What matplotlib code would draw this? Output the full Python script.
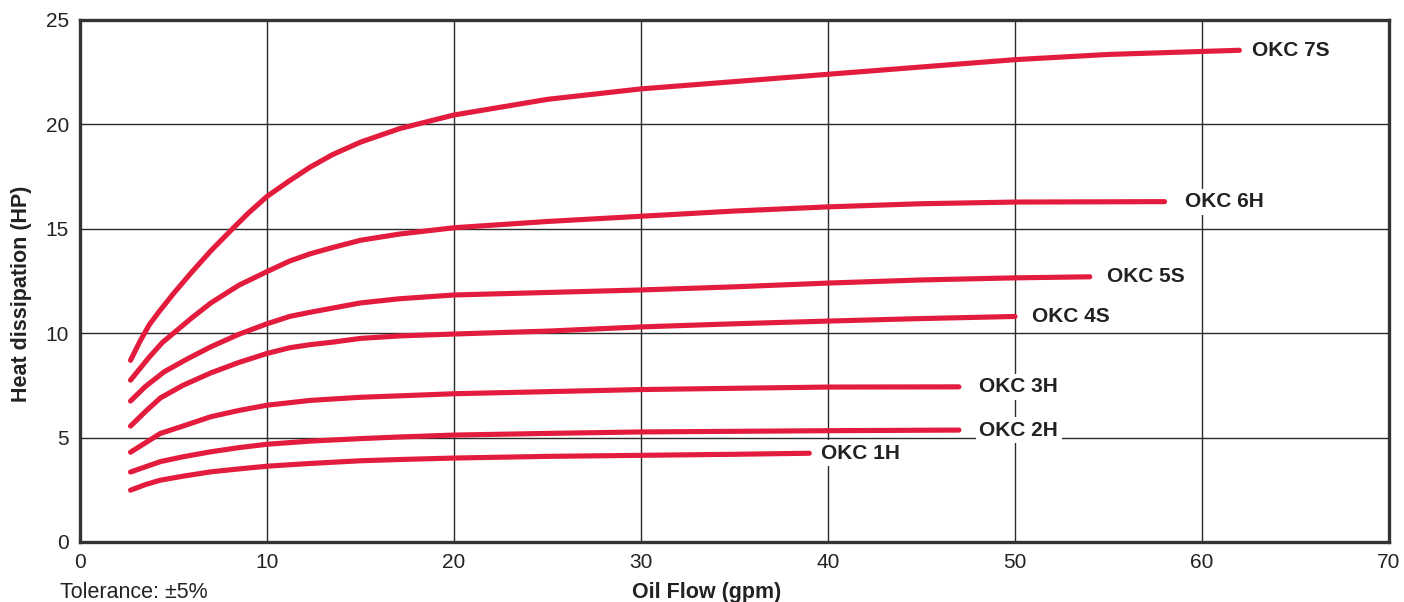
import matplotlib
matplotlib.use('Agg')
import matplotlib.pyplot as plt

plt.rcParams['font.family'] = ['Liberation Sans', 'DejaVu Sans']

# Heat dissipation curves (HP) vs oil flow (gpm)
flow_7s = [2.7, 3.2, 3.7, 4.2, 5.0, 6.0, 7.0, 8.1, 9.0, 10, 11.2, 12.3, 13.5, 15.0, 17.1, 20, 25, 30, 35, 40, 45, 50, 55, 62]
hp_7s = [8.7, 9.6, 10.4, 11.0, 11.9, 12.95, 13.95, 14.95, 15.75, 16.55, 17.3, 17.95, 18.55, 19.15, 19.8, 20.45, 21.2, 21.7, 22.05, 22.4, 22.75, 23.1, 23.35, 23.55]

flow_6h = [2.7, 3.2, 3.7, 4.4, 5.2, 6.0, 7.0, 8.5, 10, 11.2, 12.3, 13.5, 15.0, 17.1, 20, 25, 30, 35, 40, 45, 50, 58]
hp_6h = [7.75, 8.3, 8.85, 9.55, 10.15, 10.75, 11.45, 12.3, 12.95, 13.45, 13.8, 14.1, 14.45, 14.75, 15.05, 15.35, 15.6, 15.85, 16.05, 16.2, 16.28, 16.3]

flow_5s = [2.7, 3.5, 4.5, 5.7, 7.0, 8.5, 10, 11.2, 12.3, 13.5, 15.0, 17.1, 20, 25, 30, 35, 40, 45, 50, 54]
hp_5s = [6.75, 7.45, 8.15, 8.75, 9.35, 9.95, 10.45, 10.8, 11.0, 11.2, 11.45, 11.65, 11.83, 11.95, 12.07, 12.22, 12.4, 12.55, 12.65, 12.7]

flow_4s = [2.7, 3.5, 4.3, 5.5, 7.0, 8.5, 10, 11.2, 12.3, 13.5, 15.0, 17.1, 20, 25, 30, 35, 40, 45, 50]
hp_4s = [5.55, 6.25, 6.9, 7.5, 8.1, 8.6, 9.03, 9.3, 9.45, 9.57, 9.75, 9.87, 9.96, 10.1, 10.3, 10.45, 10.58, 10.7, 10.8]

flow_3h = [2.7, 3.5, 4.3, 5.5, 7.0, 8.5, 10, 12.3, 15.0, 17.1, 20, 25, 30, 35, 40, 47]
hp_3h = [4.3, 4.75, 5.2, 5.55, 6.0, 6.3, 6.55, 6.78, 6.93, 7.0, 7.1, 7.2, 7.3, 7.36, 7.42, 7.43]

flow_2h = [2.7, 3.5, 4.3, 5.5, 7.0, 8.5, 10, 12.3, 15.0, 17.1, 20, 25, 30, 35, 40, 47]
hp_2h = [3.35, 3.6, 3.85, 4.08, 4.32, 4.52, 4.68, 4.83, 4.95, 5.03, 5.12, 5.2, 5.27, 5.3, 5.33, 5.36]

flow_1h = [2.7, 3.5, 4.3, 5.5, 7.0, 8.5, 10, 12.3, 15.0, 17.1, 20, 25, 30, 35, 39]
hp_1h = [2.48, 2.75, 2.96, 3.15, 3.36, 3.5, 3.63, 3.76, 3.89, 3.95, 4.02, 4.1, 4.15, 4.2, 4.25]

names = ['OKC 7S', 'OKC 6H', 'OKC 5S', 'OKC 4S', 'OKC 3H', 'OKC 2H', 'OKC 1H']
label_x = [62.7, 59.1, 54.9, 50.9, 48.1, 48.1, 39.6]

series = [(flow_7s, hp_7s), (flow_6h, hp_6h), (flow_5s, hp_5s), (flow_4s, hp_4s),
          (flow_3h, hp_3h), (flow_2h, hp_2h), (flow_1h, hp_1h)]

red = '#e31b3c'
ink = '#222222'

fig = plt.figure(figsize=(14.04, 6.02), dpi=100)
ax = fig.add_axes([0.057, 0.0997, 0.9323, 0.8671])

for (fx, hy), name, lx in zip(series, names, label_x):
    ax.plot(fx, hy, color=red, lw=3.7, solid_capstyle='round', solid_joinstyle='round', zorder=3)
    ax.text(lx, hy[-1], name, fontsize=15, fontweight='bold', color=ink,
            va='center', ha='left', zorder=4,
            bbox=dict(facecolor='white', edgecolor='none', pad=2.5))

ax.set_xlim(0, 70)
ax.set_ylim(0, 25)
ax.set_xticks(range(0, 71, 10))
ax.set_yticks(range(0, 26, 5))
ax.grid(True, color='#2a2a2a', lw=1.0)
ax.set_axisbelow(True)
ax.tick_params(length=0, labelsize=15, colors=ink, pad=8)
for s in ax.spines.values():
    s.set_linewidth(2.4)
    s.set_color('#333333')

ax.set_ylabel('Heat dissipation (HP)', fontsize=15.5, fontweight='bold', color=ink)
ax.yaxis.set_label_coords(-0.037, 0.475)
fig.text(0.503, 0.016, 'Oil Flow (gpm)', fontsize=15.5, fontweight='bold', color=ink,
         ha='center', va='center')
fig.text(0.0427, 0.016, 'Tolerance: ±5%', fontsize=15.5, color=ink, ha='left', va='center')

fig.savefig('out.png', dpi=100)
